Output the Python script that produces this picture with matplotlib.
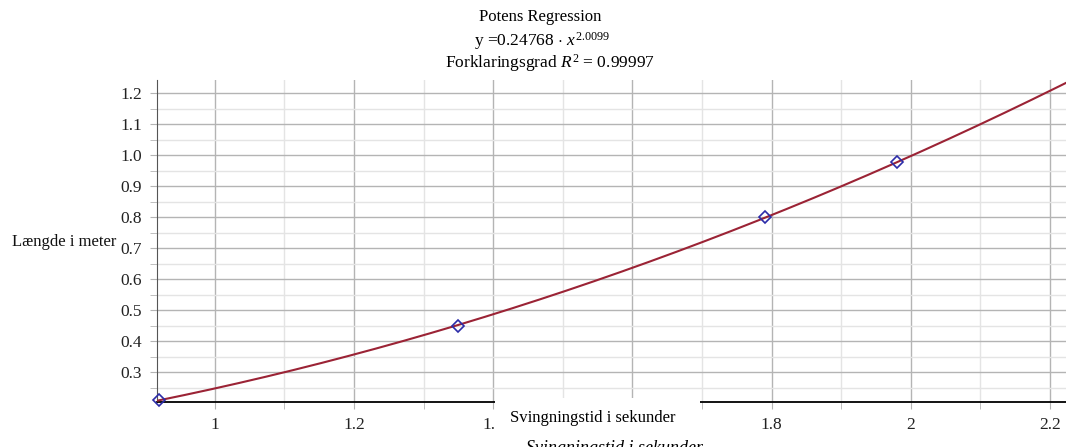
import numpy as np
import matplotlib
matplotlib.use("Agg")
import matplotlib.pyplot as plt
from matplotlib.ticker import MultipleLocator, FuncFormatter
from matplotlib.patches import Rectangle

plt.rcParams["font.family"] = ["Liberation Serif", "DejaVu Serif"]
plt.rcParams["mathtext.fontset"] = "custom"
plt.rcParams["mathtext.rm"] = "Liberation Serif"
plt.rcParams["mathtext.it"] = "Liberation Serif:italic"

# Measured swing times (s) and pendulum lengths (m)
period_s = [0.92, 1.35, 1.79, 1.98]
length_m = [0.21, 0.45, 0.80, 0.98]

# Power regression y = a * x^b
coef_a = 0.24768
coef_b = 2.0099
r_squared = 0.99997

x_min, x_max = 0.917, 2.223
y_min, y_max = 0.204, 1.243

fig = plt.figure(figsize=(10.66, 4.47), dpi=100)
ax = fig.add_axes([157 / 1066, 45 / 447, 1 - 157 / 1066, (402 - 80) / 447])

xs = np.linspace(x_min, x_max, 400)
ax.plot(xs, coef_a * xs ** coef_b, color="#9b2335", lw=1.5, zorder=3)
ax.plot(period_s, length_m, linestyle="none", marker="D", markersize=6,
        markerfacecolor="none", markeredgecolor="#2b2ba8", markeredgewidth=1.2,
        zorder=4, clip_on=False)

ax.set_xlim(x_min, x_max)
ax.set_ylim(y_min, y_max)

ax.xaxis.set_major_locator(MultipleLocator(0.2))
ax.xaxis.set_minor_locator(MultipleLocator(0.1))
ax.yaxis.set_major_locator(MultipleLocator(0.1))
ax.yaxis.set_minor_locator(MultipleLocator(0.05))

ax.xaxis.set_major_formatter(FuncFormatter(lambda v, p: f"{v:g}"))
ax.yaxis.set_major_formatter(FuncFormatter(lambda v, p: f"{v:.1f}"))

ax.grid(which="major", color="#b4b4b4", lw=1.0)
ax.grid(which="minor", color="#e4e4e4", lw=1.0)
ax.set_axisbelow(True)

for side in ("top", "right"):
    ax.spines[side].set_visible(False)
ax.spines["left"].set_color("#555555")
ax.spines["bottom"].set_color("black")
ax.spines["bottom"].set_linewidth(1.3)

ax.tick_params(which="both", direction="out", color="#b4b4b4", labelsize=12.5,
               labelcolor="#222222")
ax.tick_params(which="major", length=5, pad=6)
ax.tick_params(which="minor", length=5)

fig.text(12 / 1066, (447 - 242) / 447, "Længde i meter", fontsize=12,
         ha="left", va="center", color="#111111")

# Title block
fig.text(540 / 1066, 1 - 17 / 447, "Potens Regression", fontsize=12,
         ha="center", va="center")
fig.text(542 / 1066, 1 - 41 / 447,
         r"y =0.24768 $\cdot$ $\mathit{x}^{2.0099}$", fontsize=12.5,
         ha="center", va="center")
fig.text(550 / 1066, 1 - 63 / 447,
         r"Forklaringsgrad $\mathit{R}^{2}$ = 0.99997", fontsize=12.5,
         ha="center", va="center")

# x-axis caption on a white panel, with its italic duplicate running off the bottom
fig.patches.append(Rectangle((495 / 1066, 0), (700 - 495) / 1066, (447 - 398) / 447,
                             transform=fig.transFigure, facecolor="white",
                             edgecolor="none", zorder=5))
fig.text(593 / 1066, 1 - 418 / 447, "Svingningstid i sekunder", fontsize=12,
         ha="center", va="center", zorder=6)
fig.text(615 / 1066, -0.003, "Svingningstid i sekunder",
         fontsize=13, style="italic", ha="center", va="center", zorder=6)

fig.savefig("out.png", dpi=100)
